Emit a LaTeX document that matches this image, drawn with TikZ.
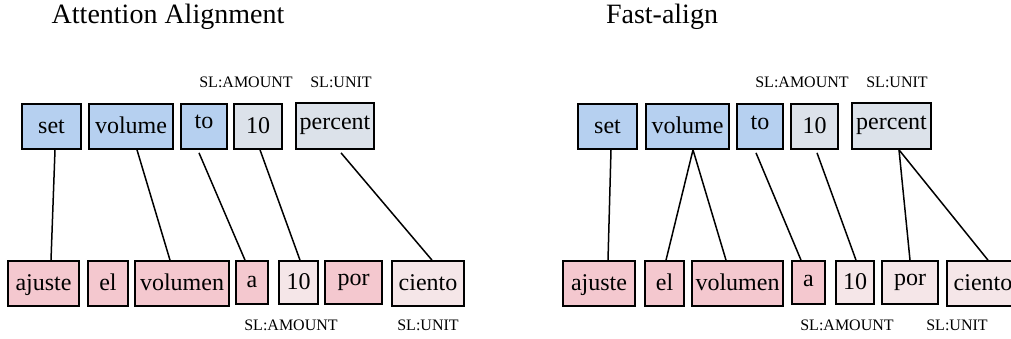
\documentclass[tikz,border=0pt]{standalone}
\usepackage{fontspec}
\setmainfont{Liberation Serif}
\definecolor{cblue}{HTML}{B6D0F0}
\definecolor{cgray}{HTML}{DCE2EA}
\definecolor{cpink}{HTML}{F4C8CF}
\definecolor{clpink}{HTML}{F5E6E8}
\tikzset{
  wbox/.style={draw=black, line width=1.7pt, inner sep=0pt, text height=17pt, text depth=3pt, font=\fontsize{24}{24}\selectfont},
  bl/.style={wbox, fill=cblue},
  gr/.style={wbox, fill=cgray},
  pk/.style={wbox, fill=cpink},
  lp/.style={wbox, fill=clpink},
  sl/.style={font=\fontsize{16}{16}\selectfont, anchor=base, inner sep=0pt},
  ttl/.style={font=\fontsize{28}{28}\selectfont, anchor=base, inner sep=0pt},
  al/.style={line width=1.5pt},
}
\begin{document}
\begin{tikzpicture}[x=1pt,y=-1pt]
\useasboundingbox (0,0) rectangle (1011,338);
% titles
\node[ttl] (t1) at (168,23) {Attention Alignment};
\node[ttl] (t2) at (662,23) {Fast-align};
% ---------- left panel ----------
\node[bl, minimum width=59pt, minimum height=45pt] (Lset) at (51.5,126.5) {set};
\node[bl, minimum width=84pt, minimum height=45pt] (Lvolume) at (131,126.5) {volume};
\node[bl, minimum width=46pt, minimum height=45pt, text depth=13pt] (Lto) at (204,126.5) {to};
\node[gr, minimum width=48pt, minimum height=45pt] (Lten) at (258,126.5) {10};
\node[gr, minimum width=78pt, minimum height=46pt, text depth=11pt] (Lpercent) at (335,126) {percent};
\node[pk, minimum width=71pt, minimum height=45pt] (Lajuste) at (43.5,283.5) {ajuste};
\node[pk, minimum width=40pt, minimum height=45pt] (Lel) at (108,283.5) {el};
\node[pk, minimum width=94pt, minimum height=45pt] (Lvolumen) at (182,283.5) {volumen};
\node[pk, minimum width=32pt, minimum height=43pt, text depth=8pt] (La) at (252,282.5) {a};
\node[lp, minimum width=39pt, minimum height=43pt] (Ldiez) at (298.5,282.5) {10};
\node[pk, minimum width=57pt, minimum height=43pt, text depth=11pt] (Lpor) at (353.5,282.5) {por};
\node[lp, minimum width=72pt, minimum height=45pt] (Lciento) at (428,283.5) {ciento};
\node[sl] (Lsa1) at (246,87) {SL:AMOUNT};
\node[sl] (Lsu1) at (341,87) {SL:UNIT};
\node[sl] (Lsa2) at (291,330) {SL:AMOUNT};
\node[sl] (Lsu2) at (428,330) {SL:UNIT};
\draw[al] ([xshift=3.5pt]Lset.south) -- ([xshift=7.5pt]Lajuste.north);
\draw[al] ([xshift=6pt]Lvolume.south) -- ([xshift=-12pt]Lvolumen.north);
\draw[al] ([xshift=-5pt,yshift=-3pt]Lto.south) -- ([xshift=-7pt]La.north);
\draw[al] ([xshift=2pt]Lten.south) -- ([xshift=1.5pt]Ldiez.north);
\draw[al] ([xshift=6pt,yshift=-3pt]Lpercent.south) -- ([xshift=4pt]Lciento.north);
% ---------- right panel ----------
\node[bl, minimum width=59pt, minimum height=45pt] (Rset) at (607.5,126.5) {set};
\node[bl, minimum width=83pt, minimum height=45pt] (Rvolume) at (687.5,126.5) {volume};
\node[bl, minimum width=46pt, minimum height=45pt, text depth=12pt] (Rto) at (760,126.5) {to};
\node[gr, minimum width=47pt, minimum height=45pt] (Rten) at (814.5,126.5) {10};
\node[gr, minimum width=79pt, minimum height=46pt, text depth=11pt] (Rpercent) at (891.5,126) {percent};
\node[pk, minimum width=72pt, minimum height=45pt] (Rajuste) at (599,283.5) {ajuste};
\node[pk, minimum width=39pt, minimum height=45pt] (Rel) at (664.5,283.5) {el};
\node[pk, minimum width=91pt, minimum height=45pt] (Rvolumen) at (737.5,283.5) {volumen};
\node[pk, minimum width=33pt, minimum height=43pt, text depth=10pt] (Ra) at (808.5,282.5) {a};
\node[lp, minimum width=38pt, minimum height=43pt] (Rdiez) at (855,282.5) {10};
\node[lp, minimum width=56pt, minimum height=43pt, text depth=11pt] (Rpor) at (910,282.5) {por};
\node[lp, minimum width=72pt, minimum height=45pt] (Rciento) at (983,283.5) {ciento};
\node[sl] (Rsa1) at (802,87) {SL:AMOUNT};
\node[sl] (Rsu1) at (897,87) {SL:UNIT};
\node[sl] (Rsa2) at (847,330) {SL:AMOUNT};
\node[sl] (Rsu2) at (957,330) {SL:UNIT};
\draw[al] ([xshift=3.5pt]Rset.south) -- ([xshift=9pt]Rajuste.north);
\draw[al] ([xshift=5.5pt]Rvolume.south) -- ([xshift=1.5pt]Rel.north);
\draw[al] ([xshift=5.5pt]Rvolume.south) -- ([xshift=-11.5pt]Rvolumen.north);
\draw[al] ([xshift=-4pt,yshift=-3pt]Rto.south) -- ([xshift=-7.5pt]Ra.north);
\draw[al] ([xshift=2.5pt,yshift=-3pt]Rten.south) -- ([xshift=1pt]Rdiez.north);
\draw[al] ([xshift=7.5pt]Rpercent.south) -- (Rpor.north);
\draw[al] ([xshift=7.5pt]Rpercent.south) -- ([xshift=5pt]Rciento.north);
\end{tikzpicture}
\end{document}
